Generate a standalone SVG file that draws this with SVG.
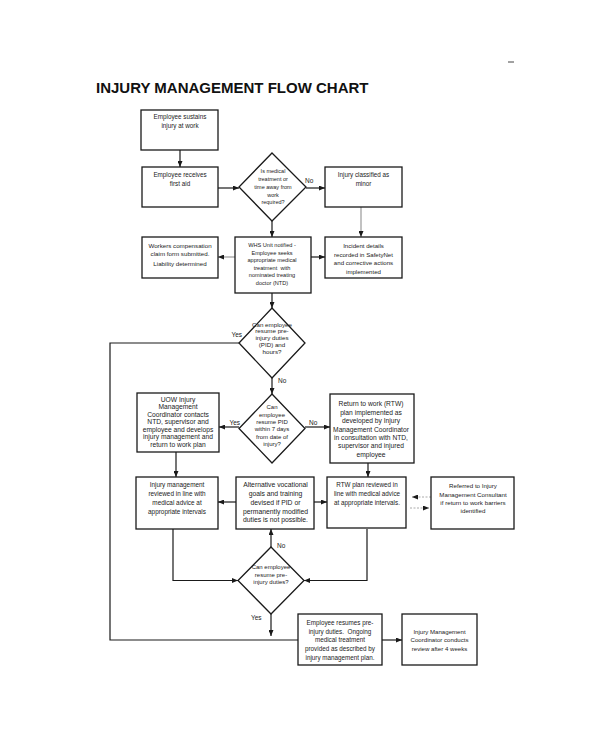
<svg xmlns="http://www.w3.org/2000/svg" width="600" height="730" viewBox="0 0 600 730">
<style>
.bg{fill:#fff}
.box{fill:#fff;stroke:#1a1a1a;stroke-width:1.3}
.t{font-family:"Liberation Sans",Arial,sans-serif;text-anchor:middle;fill:#222}
.lbl{font-family:"Liberation Sans",Arial,sans-serif;font-size:6.5px;fill:#222}
.c{fill:none;stroke:#1a1a1a;stroke-width:1.2}
.cg{fill:none;stroke:#999;stroke-width:1.2}
.cd{fill:none;stroke:#aaa;stroke-width:1;stroke-dasharray:2 1.5}
</style>
<defs>
<marker id="ah" markerUnits="userSpaceOnUse" markerWidth="6" markerHeight="5" refX="6" refY="2.5" orient="auto">
<path d="M0,0 L6,2.5 L0,5 z" fill="#1a1a1a"/>
</marker>
</defs>
<rect class="bg" x="0" y="0" width="600" height="730"/>
<line x1="508" y1="62" x2="514" y2="62" stroke="#444" stroke-width="1"/>
<text x="96" y="93" font-family="'Liberation Sans',Arial,sans-serif" font-weight="bold" font-size="15" fill="#111">INJURY MANAGEMENT FLOW CHART</text>

<g id="connectors">
<line class="c" x1="180" y1="150" x2="180" y2="167" marker-end="url(#ah)"/>
<line class="c" x1="218" y1="188" x2="239" y2="188" marker-end="url(#ah)"/>
<line class="c" x1="306" y1="188" x2="325" y2="188" marker-end="url(#ah)"/>
<line class="cg" x1="361" y1="207" x2="361" y2="237" marker-end="url(#ah)"/>
<line class="c" x1="272" y1="221" x2="272" y2="237" marker-end="url(#ah)"/>
<line class="cg" x1="235" y1="257" x2="218" y2="257" marker-end="url(#ah)"/>
<line class="c" x1="311" y1="257" x2="325" y2="257" marker-end="url(#ah)"/>
<line class="c" x1="272" y1="293" x2="272" y2="308" marker-end="url(#ah)"/>
<polyline class="c" points="239,343 110,343 110,640 298,640"/>
<line class="c" x1="272" y1="378" x2="272" y2="394" marker-end="url(#ah)"/>
<line class="c" x1="239" y1="427" x2="219" y2="427" marker-end="url(#ah)"/>
<line class="c" x1="305" y1="427" x2="330" y2="427" marker-end="url(#ah)"/>
<line class="c" x1="176" y1="452" x2="176" y2="477" marker-end="url(#ah)"/>
<line class="c" x1="368" y1="463" x2="368" y2="477" marker-end="url(#ah)"/>
<line class="c" x1="236" y1="502" x2="218" y2="502" marker-end="url(#ah)"/>
<line class="c" x1="314" y1="502" x2="327" y2="502" marker-end="url(#ah)"/>
<line class="c" x1="271" y1="547" x2="271" y2="529" marker-end="url(#ah)"/>
<polyline class="c" points="173,529 173,580.5 238,580.5" marker-end="url(#ah)"/>
<polyline class="c" points="367,529 367,580.5 304,580.5" marker-end="url(#ah)"/>
<line class="c" x1="271" y1="614" x2="271" y2="636" marker-end="url(#ah)"/>
<line class="c" x1="382" y1="640" x2="402" y2="640" marker-end="url(#ah)"/>
<line class="cd" x1="431" y1="497" x2="412" y2="497" marker-end="url(#ah)"/>
<line class="cd" x1="410" y1="508" x2="429" y2="508" marker-end="url(#ah)"/>
<text class="lbl" x="305" y="182.5">No</text>
<text class="lbl" x="242" y="337" text-anchor="end">Yes</text>
<text class="lbl" x="278" y="382.5">No</text>
<text class="lbl" x="240" y="424.5" text-anchor="end">Yes</text>
<text class="lbl" x="309" y="424.5">No</text>
<text class="lbl" x="277" y="547.5">No</text>
<text class="lbl" x="251" y="619.5">Yes</text>
</g>

<g id="n1">
<rect class="box" x="141" y="110" width="77" height="40"/>
<text class="t" font-size="6.3"><tspan x="180" y="119.3">Employee sustains</tspan><tspan x="180" y="128.3">injury at work</tspan></text>
</g>
<g id="n2">
<rect class="box" x="142" y="167" width="76" height="40"/>
<text class="t" font-size="6.3"><tspan x="180" y="177.3">Employee receives</tspan><tspan x="180" y="186.3">first aid</tspan></text>
</g>
<g id="d1">
<polygon class="box" points="272,153 306,187 272,221 239,187"/>
<text class="t" font-size="5.5"><tspan x="273" y="173">Is medical</tspan><tspan x="273" y="181">treatment or</tspan><tspan x="273" y="189">time away from</tspan><tspan x="273" y="196.5">work</tspan><tspan x="273" y="204">required?</tspan></text>
</g>
<g id="n3">
<rect class="box" x="325" y="167" width="77" height="40"/>
<text class="t" font-size="6.3"><tspan x="363.5" y="177.3">Injury classified as</tspan><tspan x="363.5" y="186.3">minor</tspan></text>
</g>
<g id="n4">
<rect class="box" x="142" y="237" width="76" height="41"/>
<text class="t" font-size="6.2"><tspan x="180" y="248">Workers compensation</tspan><tspan x="180" y="256.3">claim form submitted.</tspan><tspan x="180" y="265.6">Liability determined</tspan></text>
</g>
<g id="n5">
<rect class="box" x="235" y="237" width="76" height="56"/>
<text class="t" font-size="5.6"><tspan x="272" y="247">WHS Unit notified -</tspan><tspan x="272" y="254.7">Employee seeks</tspan><tspan x="272" y="262.3">appropriate medical</tspan><tspan x="272" y="269.7">treatment&#160; with</tspan><tspan x="272" y="277">nominated treating</tspan><tspan x="272" y="284.7">doctor (NTD)</tspan></text>
</g>
<g id="n6">
<rect class="box" x="325" y="237" width="77" height="41"/>
<text class="t" font-size="6.1"><tspan x="363.5" y="248">Incident details</tspan><tspan x="363.5" y="256.6">recorded in SafetyNet</tspan><tspan x="363.5" y="265">and corrective actions</tspan><tspan x="363.5" y="274">implemented</tspan></text>
</g>
<g id="d2">
<polygon class="box" points="272,308 305,343 272,378 239,343"/>
<text class="t" font-size="6.2"><tspan x="272" y="326.5">Can employee</tspan><tspan x="272" y="333.2">resume pre-</tspan><tspan x="272" y="340.2">injury duties</tspan><tspan x="272" y="347.2">(PID) and</tspan><tspan x="272" y="354.2">hours?</tspan></text>
</g>
<g id="d3">
<polygon class="box" points="272,394 305,428.5 272,463 239,428.5"/>
<text class="t" font-size="6"><tspan x="272" y="409.4">Can</tspan><tspan x="272" y="416.8">employee</tspan><tspan x="272" y="424.1">resume PID</tspan><tspan x="272" y="431.4">within 7 days</tspan><tspan x="272" y="438.8">from date of</tspan><tspan x="272" y="446.1">injury?</tspan></text>
</g>
<g id="n7">
<rect class="box" x="137" y="393" width="82" height="59"/>
<text class="t" font-size="6.7"><tspan x="178" y="401.9">UOW Injury</tspan><tspan x="178" y="409.4">Management</tspan><tspan x="178" y="416.9">Coordinator contacts</tspan><tspan x="178" y="424.4">NTD, supervisor and</tspan><tspan x="178" y="431.9">employee and develops</tspan><tspan x="178" y="439.4">injury management and</tspan><tspan x="178" y="446.9">return to work plan</tspan></text>
</g>
<g id="n8">
<rect class="box" x="330" y="394" width="84" height="69"/>
<text class="t" font-size="6.7"><tspan x="371" y="406.3">Return to work (RTW)</tspan><tspan x="371" y="414.7">plan implemented as</tspan><tspan x="371" y="423.1">developed by Injury</tspan><tspan x="371" y="431.5">Management Coordinator</tspan><tspan x="371" y="439.9">in consultation with NTD,</tspan><tspan x="371" y="448.3">supervisor and injured</tspan><tspan x="371" y="456.7">employee</tspan></text>
</g>
<g id="n9">
<rect class="box" x="136" y="477" width="82" height="52"/>
<text class="t" font-size="6.4"><tspan x="177" y="487.3">Injury management</tspan><tspan x="177" y="496.3">reviewed in line with</tspan><tspan x="177" y="505">medical advice at</tspan><tspan x="177" y="514">appropriate intervals</tspan></text>
</g>
<g id="n10">
<rect class="box" x="236" y="477" width="78" height="52"/>
<text class="t" font-size="6.8"><tspan x="275.5" y="487.4">Alternative vocational</tspan><tspan x="275.5" y="496.1">goals and training</tspan><tspan x="275.5" y="504.8">devised if PID or</tspan><tspan x="275.5" y="513.5">permanently modified</tspan><tspan x="275.5" y="522.2">duties is not possible.</tspan></text>
</g>
<g id="n11">
<rect class="box" x="327" y="477" width="79" height="51"/>
<text class="t" font-size="6.3"><tspan x="367" y="487.3">RTW plan reviewed in</tspan><tspan x="367" y="496">line with medical advice</tspan><tspan x="367" y="504.6">at appropriate intervals.</tspan></text>
</g>
<g id="n12">
<rect class="box" x="431" y="477" width="83" height="52"/>
<text class="t" font-size="6.2"><tspan x="473" y="488.3">Referred to Injury</tspan><tspan x="473" y="496.6">Management Consultant</tspan><tspan x="473" y="505">if return to work barriers</tspan><tspan x="473" y="513">identified</tspan></text>
</g>
<g id="d4">
<polygon class="box" points="271,547 304,580.5 271,614 238,580.5"/>
<text class="t" font-size="6"><tspan x="271" y="569.2">Can employee</tspan><tspan x="271" y="576.5">resume pre-</tspan><tspan x="271" y="583.9">injury duties?</tspan></text>
</g>
<g id="n13">
<rect class="box" x="298" y="614" width="84" height="51"/>
<text class="t" font-size="6.3"><tspan x="340" y="625">Employee resumes pre-</tspan><tspan x="340" y="634">injury duties.&#160; Ongoing</tspan><tspan x="340" y="642.3">medical treatment</tspan><tspan x="340" y="651">provided as described by</tspan><tspan x="340" y="660">injury management plan.</tspan></text>
</g>
<g id="n14">
<rect class="box" x="402" y="614" width="75" height="51"/>
<text class="t" font-size="6.1"><tspan x="439.5" y="634">Injury Management</tspan><tspan x="439.5" y="642.3">Coordinator conducts</tspan><tspan x="439.5" y="650.6">review after 4 weeks</tspan></text>
</g>
</svg>
